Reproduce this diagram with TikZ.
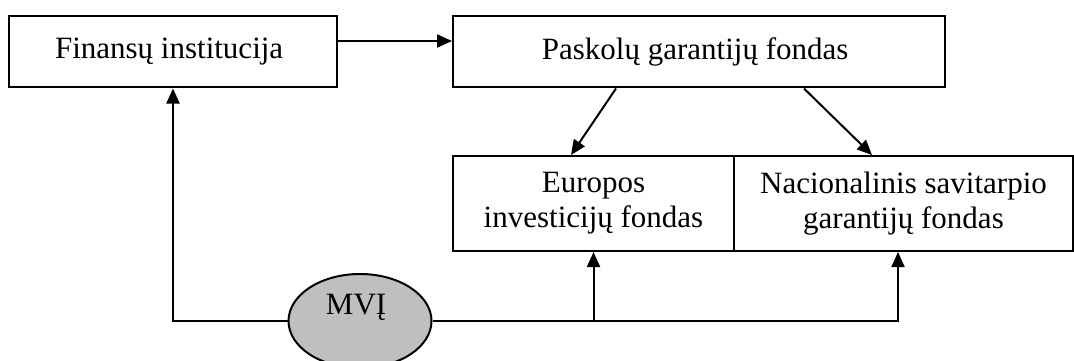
\documentclass[tikz,border=0pt]{standalone}
\usepackage{fontspec}
\setmainfont{Liberation Serif}
\usetikzlibrary{shapes.geometric,arrows.meta,calc}

\begin{document}
\begin{tikzpicture}[x=1pt,y=-1pt,font=\fontsize{31}{35}\selectfont,line width=2pt,every node/.style = {shape=rectangle, draw, align=center, inner sep=0pt}]
		\tikzset{
			fund/.style = { minimum height=71pt },
			lower/.style = { minimum height=95pt },
			arr/.style = { -{Triangle[length=15pt,width=13pt]} },
		}
		\useasboundingbox (0,0) rectangle (1074,361);
		\node[fund, minimum width=328pt] (fin) at (173,52) { Finansų institucija };
		\node[fund, minimum width=492pt] (pgf) at (699,52) { Paskolų garantijų fondas };
		\node[lower, minimum width=281pt] (eif) at (593.5,203.5) { Europos \\ investicijų fondas };
		\node[lower, minimum width=339pt] (nsgf) at (903.5,203.5) { Nacionalinis savitarpio \\ garantijų fondas };
		\node[ellipse, fill=gray!50, minimum width=143pt, minimum height=94pt, text depth=33pt] (mvi) at (360,321) { MVĮ };
		\coordinate (split) at (eif.south |- mvi.east);
		\draw[arr] ($(fin.east)+(0,-11)$) -- ($(pgf.west)+(0,-11)$);
		\draw[arr] ($(pgf.south west)+(164,0)$) -- ($(eif.north west)+(119,0)$);
		\draw[arr] ($(pgf.south west)+(352,0)$) -- ($(nsgf.north west)+(139,0)$);
		\draw[arr] (mvi.west) -| (fin.south);
		\draw[arr] (mvi.east) -| ($(nsgf.south)+(-5.5,0)$);
		\draw[arr] (split) -- (eif.south);
\end{tikzpicture}
\end{document}
